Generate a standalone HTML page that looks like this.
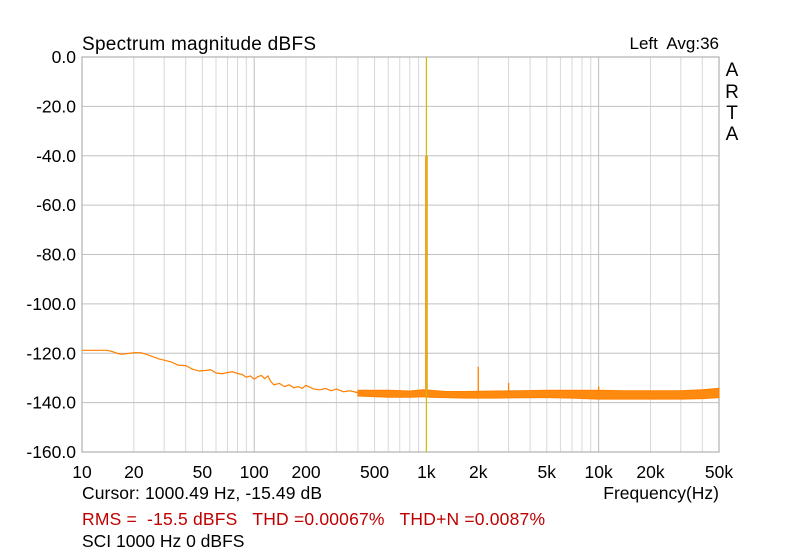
<!DOCTYPE html>
<html><head><meta charset="utf-8"><style>
body{margin:0;background:#fff}
svg{display:block;font-family:"Liberation Sans",sans-serif}
</style></head><body>
<svg id="c" width="800" height="555">
<rect width="800" height="555" fill="#fff"/>
<g id="grid"></g>
<g id="series"></g>
<g id="labels"></g>
<text x="82" y="50" font-size="19" textLength="234">Spectrum magnitude dBFS</text>
<text x="719" y="49" font-size="17" text-anchor="end" xml:space="preserve">Left  Avg:36</text>
<g font-size="19" text-anchor="middle">
<text x="732" y="76">A</text><text x="732" y="98">R</text><text x="732" y="119">T</text><text x="732" y="140">A</text></g>
<text x="82" y="499" font-size="17.5" textLength="240">Cursor: 1000.49 Hz, -15.49 dB</text>
<text x="719" y="499" font-size="17.5" text-anchor="end">Frequency(Hz)</text>
<text x="82" y="525" font-size="17.5" fill="#c00000" xml:space="preserve" textLength="463">RMS =  -15.5 dBFS   THD =0.00067%   THD+N =0.0087%</text>
<text x="82" y="547" font-size="17.5">SCI 1000 Hz 0 dBFS</text>
</svg>
<script>
const yTicks=[0,-20,-40,-60,-80,-100,-120,-140,-160];
const yTickLabels=["0.0","-20.0","-40.0","-60.0","-80.0","-100.0","-120.0","-140.0","-160.0"];
const xTicks=[10,20,50,100,200,500,1000,2000,5000,10000,20000,50000];
const xTickLabels=["10","20","50","100","200","500","1k","2k","5k","10k","20k","50k"];
const lowFreqs=[10,12,14,15,16,17,18,20,22,24,26,28,30,33,36,40,44,48,52,56,60,65,70,75,80,85,90,95,100,105,110,115,120,125,130,140,150,160,170,180,190,200,220,240,260,280,300,330,360,400];
const lowDb=[-118.8,-118.8,-118.8,-119.3,-120,-120.4,-120.2,-119.8,-119.8,-120.6,-121.5,-122.3,-122.8,-123.5,-124.8,-125,-126.5,-127.2,-127,-126.7,-128,-128.3,-127.8,-127.5,-128.2,-128.6,-129.7,-129.2,-130.5,-129.5,-129,-130.3,-129.2,-131.5,-132.8,-132.2,-133.5,-132.8,-134,-133.5,-134.2,-133,-134.4,-134.8,-134.3,-135.2,-134.5,-135.6,-135.2,-136];
const bandFreqs=[400,600,800,950,1050,1300,1700,2500,3500,5000,7000,10000,14000,20000,30000,40000,50000];
const bandHi=[-135,-135,-135.3,-134.8,-135,-135.5,-135.5,-135.3,-135.2,-135,-135,-135,-135.2,-135.2,-135.2,-134.8,-134.2];
const bandLo=[-137.3,-137.8,-137.8,-137.6,-137.8,-138,-138.2,-138.2,-138,-138,-138.2,-138.6,-138.6,-138.6,-138.6,-138.4,-138];
const spikeFreqs=[1000,2000,3000,10000];
const spikeDb=[-40,-125.5,-132,-133.5];
const cursorFreq=1000;
const X0=82,X1=719,Y0=57,Y1=452,fmin=10,fmax=50000,dmax=0,dmin=-160;
const xs=f=>X0+(Math.log10(f)-Math.log10(fmin))/(Math.log10(fmax)-Math.log10(fmin))*(X1-X0);
const ys=d=>Y0+(dmax-d)/(dmax-dmin)*(Y1-Y0);
const NS="http://www.w3.org/2000/svg";
function mk(p,t,a){const e=document.createElementNS(NS,t);for(const k in a)e.setAttribute(k,a[k]);p.appendChild(e);return e;}
const grid=document.getElementById('grid'),ser=document.getElementById('series'),lab=document.getElementById('labels');
for(let dec=10;dec<fmax;dec*=10){for(let m=1;m<10;m++){const f=dec*m;if(f<fmin||f>fmax)continue;const x=xs(f);
const l=mk(grid,'line',{x1:x,x2:x,y1:Y0,y2:Y1,stroke:m==1?'#bdbdbd':'#d8d8d8','stroke-width':1});

}}
yTicks.forEach((d,i)=>{const y=ys(d);
const l=mk(grid,'line',{x1:X0,x2:X1,y1:y,y2:y,stroke:'#c0c0c0','stroke-width':1});


const t=mk(lab,'text',{x:X0-6,y:y+6,'font-size':17.5,'text-anchor':'end'});t.textContent=yTickLabels[i];

});
mk(grid,'rect',{x:X0,y:Y0,width:X1-X0,height:Y1-Y0,fill:'none',stroke:'#b0b0b0','stroke-width':1.2});
xTicks.forEach((f,i)=>{const t=mk(lab,'text',{x:xs(f),y:478,'font-size':17.5,'text-anchor':'middle'});t.textContent=xTickLabels[i];

});
let pts=bandFreqs.map((f,i)=>xs(f)+','+ys(bandHi[i]));
for(let i=bandFreqs.length-1;i>=0;i--)pts.push(xs(bandFreqs[i])+','+ys(bandLo[i]));
const band=mk(ser,'polygon',{points:pts.join(' '),fill:'#ff8a10',stroke:'#ff8000','stroke-width':1});


const low=mk(ser,'polyline',{points:lowFreqs.map((f,i)=>xs(f)+','+ys(lowDb[i])).join(' '),fill:'none',stroke:'#ff8000','stroke-width':1.2});


spikeFreqs.forEach((f,i)=>{const x=xs(f);
const s=mk(ser,'line',{x1:x,x2:x,y1:ys(spikeDb[i]),y2:ys(-136),stroke:'#ff8000','stroke-width':i==0?2.5:1.3});

});
const cx=xs(cursorFreq);
const cur=mk(ser,'line',{x1:cx,x2:cx,y1:Y0,y2:Y1,stroke:'#c8c000','stroke-width':1.2});


</script>
</body></html>
